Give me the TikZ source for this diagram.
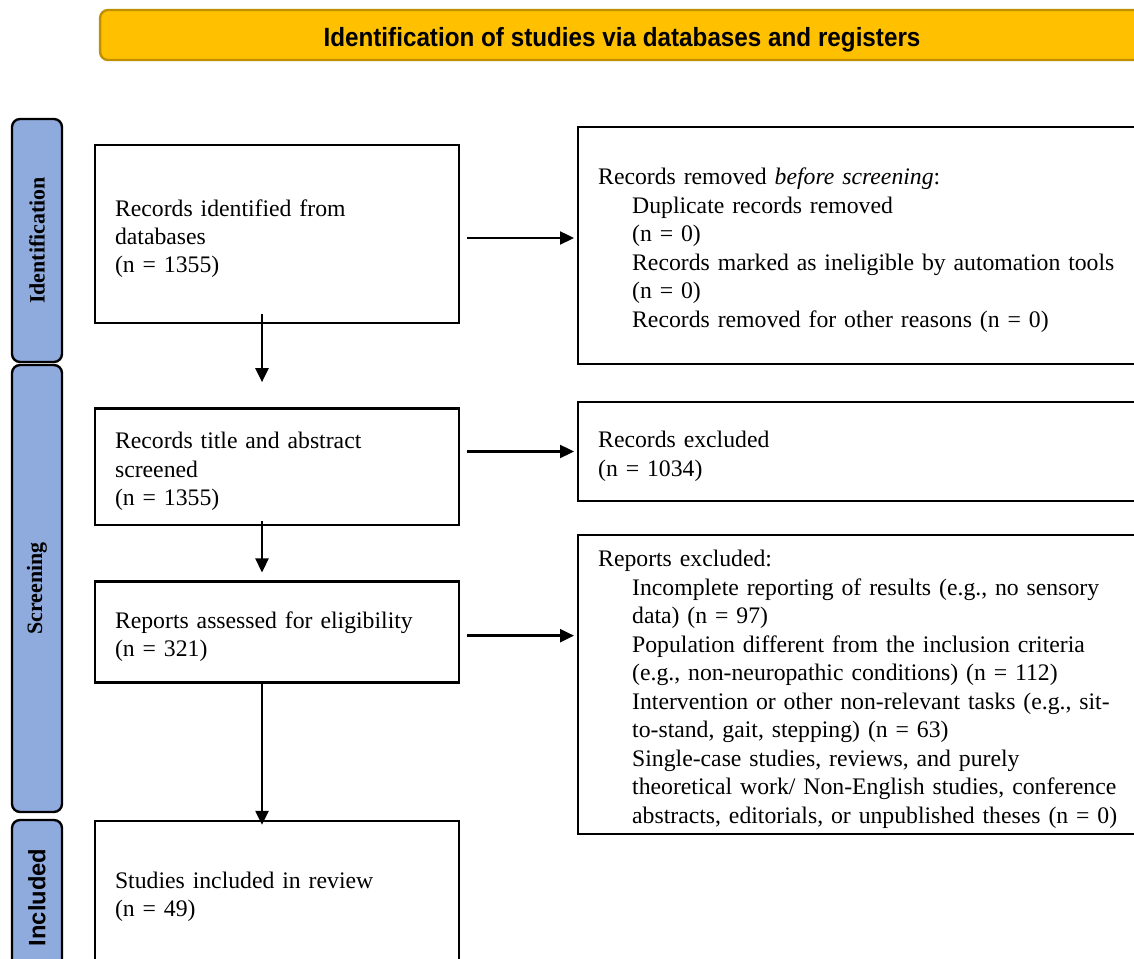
\documentclass[tikz,border=0pt]{standalone}
\usepackage{fontspec}
\setmainfont{Liberation Serif}
\setsansfont{Liberation Sans}
\newfontfamily\headfont[FakeStretch=0.92]{Liberation Sans}
\usetikzlibrary{positioning,arrows.meta}
\definecolor{headfill}{HTML}{FFC000}
\definecolor{headline}{HTML}{BF9000}
\definecolor{phasefill}{HTML}{8FAADC}
\newcommand{\subind}{\hspace*{0.68cm}}

\begin{document}
\begin{tikzpicture}[x=0.02cm,y=-0.02cm,->,>={Triangle[length=0.28cm,width=0.26cm]},
  line width=1.35pt,
  box node/.style={draw,rectangle,align=left,inner xsep=0.4cm,
    execute at begin node={\rule{0pt}{0.52cm}},
    font=\fontsize{13.5}{16.2}\selectfont},
  left node/.style={box node,text width=6.48cm},
  right node/.style={box node,text width=10.86cm,anchor=west},
  phase node/.style={draw,rounded corners=0.16cm,fill=phasefill,minimum height=1cm,
    rotate=90,font=\fontsize{12.5}{14}\selectfont\bfseries},
  head node/.style={draw=headline,fill=headfill,rounded corners=0.16cm,
    minimum width=20.88cm,minimum height=1cm,text height=0.58cm,text depth=0.11cm,
    font=\headfont\bfseries\fontsize{15}{18}\selectfont}]

  \useasboundingbox (0,0) rectangle (1134,959);
  \clip (0,0) rectangle (1134,959);

  \node[head node] (head) at (622,35) {Identification of studies via databases and registers};

  \node[phase node,minimum width=4.86cm] (pident) at (37,240.5) {Identification};
  \node[phase node,minimum width=8.94cm] (pscreen) at (37,588.5) {Screening};
  \node[phase node,minimum width=3.1cm,font=\sffamily\fontsize{13.5}{15}\selectfont\bfseries] (pincl) at (37,897.5) {Included};

  \node[left node,minimum height=3.56cm] (ident) at (277,234)
    {Records identified from\\databases\\(n = 1355)};
  \node[left node,minimum height=2.34cm] (screened) [below=1.66cm of ident]
    {Records title and abstract\\screened\\(n = 1355)};
  \node[left node,minimum height=2.02cm] (assessed) [below=1.08cm of screened]
    {Reports assessed for eligibility\\(n = 321)};
  \node[left node,minimum height=2.84cm] (included) [below=2.72cm of assessed]
    {Studies included in review\\(n = 49)};

  \node[right node,minimum height=4.74cm] (removed) at (577,245.5)
    {Records removed \textit{before screening}:\\
     \subind Duplicate records removed\\
     \subind(n = 0)\\
     \subind Records marked as ineligible by automation tools\\
     \subind(n = 0)\\
     \subind Records removed for other reasons (n = 0)};
  \node[right node,minimum height=1.98cm] (excluded) at (577,451.5)
    {Records excluded\\(n = 1034)};
  \node[right node,minimum height=5.98cm] (reports) at (577,684.5)
    {Reports excluded:\\
     \subind Incomplete reporting of results (e.g., no sensory\\
     \subind data) (n = 97)\\
     \subind Population different from the inclusion criteria\\
     \subind(e.g., non-neuropathic conditions) (n = 112)\\
     \subind Intervention or other non-relevant tasks (e.g., sit-\\
     \subind to-stand, gait, stepping) (n = 63)\\
     \subind Single-case studies, reviews, and purely\\
     \subind theoretical work/ Non-English studies, conference\\
     \subind abstracts, editorials, or unpublished theses (n = 0)};

  % downward flow
  \draw[shorten <=-0.2cm,shorten >=0.5cm] ([xshift=-0.3cm]ident.south) -- ([xshift=-0.3cm]screened.north);
  \draw[shorten <=-0.1cm,shorten >=0.16cm] ([xshift=-0.3cm]screened.south) -- ([xshift=-0.3cm]assessed.north);
  \draw[shorten >=-0.1cm] ([xshift=-0.3cm]assessed.south) -- ([xshift=-0.3cm]included.north);

  % exclusions
  \draw[shorten <=0.14cm,shorten >=0.06cm] ([yshift=-0.08cm]ident.east) -- ([yshift=-0.08cm]ident.east -| removed.west);
  \draw[shorten <=0.14cm,shorten >=0.06cm] (excluded.west -| screened.east) -- (excluded.west);
  \draw[shorten <=0.14cm,shorten >=0.06cm] ([yshift=-0.07cm]assessed.east) -- ([yshift=-0.07cm]assessed.east -| reports.west);
\end{tikzpicture}
\end{document}
